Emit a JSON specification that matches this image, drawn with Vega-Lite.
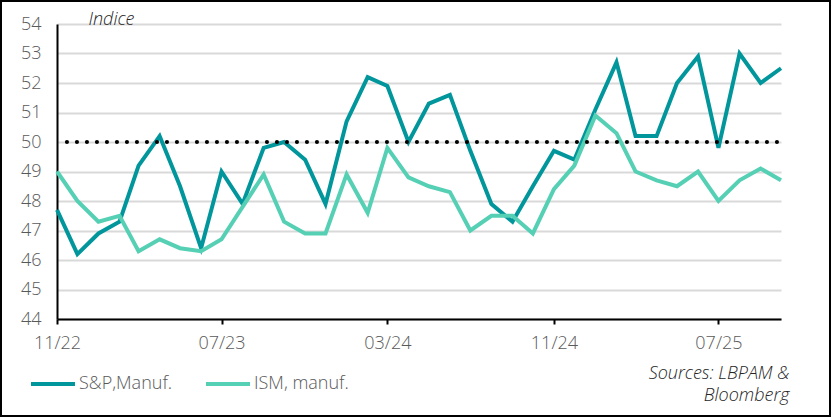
{
  "$schema": "https://vega.github.io/schema/vega-lite/v6.json",
  "autosize": {"type": "none"},
  "width": 829,
  "height": 415,
  "padding": {"left": 1, "top": 1, "right": 1, "bottom": 1},
  "background": "white",
  "config": {
    "view": {"stroke": "black", "strokeWidth": 2},
    "font": "Open Sans"
  },
  "layer": [
    {
      "data": {
        "values": [
          {"date": "2022-11-01", "series": "S&P,Manuf.", "value": 47.7},
          {"date": "2022-12-01", "series": "S&P,Manuf.", "value": 46.2},
          {"date": "2023-01-01", "series": "S&P,Manuf.", "value": 46.9},
          {"date": "2023-02-01", "series": "S&P,Manuf.", "value": 47.3},
          {"date": "2023-03-01", "series": "S&P,Manuf.", "value": 49.2},
          {"date": "2023-04-01", "series": "S&P,Manuf.", "value": 50.2},
          {"date": "2023-05-01", "series": "S&P,Manuf.", "value": 48.5},
          {"date": "2023-06-01", "series": "S&P,Manuf.", "value": 46.4},
          {"date": "2023-07-01", "series": "S&P,Manuf.", "value": 49.0},
          {"date": "2023-08-01", "series": "S&P,Manuf.", "value": 47.9},
          {"date": "2023-09-01", "series": "S&P,Manuf.", "value": 49.8},
          {"date": "2023-10-01", "series": "S&P,Manuf.", "value": 50.0},
          {"date": "2023-11-01", "series": "S&P,Manuf.", "value": 49.4},
          {"date": "2023-12-01", "series": "S&P,Manuf.", "value": 47.9},
          {"date": "2024-01-01", "series": "S&P,Manuf.", "value": 50.7},
          {"date": "2024-02-01", "series": "S&P,Manuf.", "value": 52.2},
          {"date": "2024-03-01", "series": "S&P,Manuf.", "value": 51.9},
          {"date": "2024-04-01", "series": "S&P,Manuf.", "value": 50.0},
          {"date": "2024-05-01", "series": "S&P,Manuf.", "value": 51.3},
          {"date": "2024-06-01", "series": "S&P,Manuf.", "value": 51.6},
          {"date": "2024-07-01", "series": "S&P,Manuf.", "value": 49.7},
          {"date": "2024-08-01", "series": "S&P,Manuf.", "value": 47.9},
          {"date": "2024-09-01", "series": "S&P,Manuf.", "value": 47.3},
          {"date": "2024-10-01", "series": "S&P,Manuf.", "value": 48.5},
          {"date": "2024-11-01", "series": "S&P,Manuf.", "value": 49.7},
          {"date": "2024-12-01", "series": "S&P,Manuf.", "value": 49.4},
          {"date": "2025-01-01", "series": "S&P,Manuf.", "value": 51.1},
          {"date": "2025-02-01", "series": "S&P,Manuf.", "value": 52.7},
          {"date": "2025-03-01", "series": "S&P,Manuf.", "value": 50.2},
          {"date": "2025-04-01", "series": "S&P,Manuf.", "value": 50.2},
          {"date": "2025-05-01", "series": "S&P,Manuf.", "value": 52.0},
          {"date": "2025-06-01", "series": "S&P,Manuf.", "value": 52.9},
          {"date": "2025-07-01", "series": "S&P,Manuf.", "value": 49.8},
          {"date": "2025-08-01", "series": "S&P,Manuf.", "value": 53.0},
          {"date": "2025-09-01", "series": "S&P,Manuf.", "value": 52.0},
          {"date": "2025-10-01", "series": "S&P,Manuf.", "value": 52.5},
          {"date": "2022-11-01", "series": "ISM, manuf.", "value": 49.0},
          {"date": "2022-12-01", "series": "ISM, manuf.", "value": 48.0},
          {"date": "2023-01-01", "series": "ISM, manuf.", "value": 47.3},
          {"date": "2023-02-01", "series": "ISM, manuf.", "value": 47.5},
          {"date": "2023-03-01", "series": "ISM, manuf.", "value": 46.3},
          {"date": "2023-04-01", "series": "ISM, manuf.", "value": 46.7},
          {"date": "2023-05-01", "series": "ISM, manuf.", "value": 46.4},
          {"date": "2023-06-01", "series": "ISM, manuf.", "value": 46.3},
          {"date": "2023-07-01", "series": "ISM, manuf.", "value": 46.7},
          {"date": "2023-08-01", "series": "ISM, manuf.", "value": 47.8},
          {"date": "2023-09-01", "series": "ISM, manuf.", "value": 48.9},
          {"date": "2023-10-01", "series": "ISM, manuf.", "value": 47.3},
          {"date": "2023-11-01", "series": "ISM, manuf.", "value": 46.9},
          {"date": "2023-12-01", "series": "ISM, manuf.", "value": 46.9},
          {"date": "2024-01-01", "series": "ISM, manuf.", "value": 48.9},
          {"date": "2024-02-01", "series": "ISM, manuf.", "value": 47.6},
          {"date": "2024-03-01", "series": "ISM, manuf.", "value": 49.8},
          {"date": "2024-04-01", "series": "ISM, manuf.", "value": 48.8},
          {"date": "2024-05-01", "series": "ISM, manuf.", "value": 48.5},
          {"date": "2024-06-01", "series": "ISM, manuf.", "value": 48.3},
          {"date": "2024-07-01", "series": "ISM, manuf.", "value": 47.0},
          {"date": "2024-08-01", "series": "ISM, manuf.", "value": 47.5},
          {"date": "2024-09-01", "series": "ISM, manuf.", "value": 47.5},
          {"date": "2024-10-01", "series": "ISM, manuf.", "value": 46.9},
          {"date": "2024-11-01", "series": "ISM, manuf.", "value": 48.4},
          {"date": "2024-12-01", "series": "ISM, manuf.", "value": 49.2},
          {"date": "2025-01-01", "series": "ISM, manuf.", "value": 50.9},
          {"date": "2025-02-01", "series": "ISM, manuf.", "value": 50.3},
          {"date": "2025-03-01", "series": "ISM, manuf.", "value": 49.0},
          {"date": "2025-04-01", "series": "ISM, manuf.", "value": 48.7},
          {"date": "2025-05-01", "series": "ISM, manuf.", "value": 48.5},
          {"date": "2025-06-01", "series": "ISM, manuf.", "value": 49.0},
          {"date": "2025-07-01", "series": "ISM, manuf.", "value": 48.0},
          {"date": "2025-08-01", "series": "ISM, manuf.", "value": 48.7},
          {"date": "2025-09-01", "series": "ISM, manuf.", "value": 49.1},
          {"date": "2025-10-01", "series": "ISM, manuf.", "value": 48.7}
        ]
      },
      "mark": {"type": "line", "strokeWidth": 4},
      "encoding": {
        "x": {
          "field": "date",
          "type": "temporal",
          "scale": {
            "type": "utc",
            "domain": [
              {"year": 2022, "month": 11, "date": 1, "utc": true},
              {"year": 2025, "month": 10, "date": 1, "utc": true}
            ],
            "range": [56, 780]
          },
          "axis": {
            "title": ["Sources: LBPAM &", "Bloomberg"],
            "titleX": 788,
            "titleY": 59,
            "titleAlign": "right",
            "titleAnchor": null,
            "titleAngle": 0,
            "titleBaseline": "alphabetic",
            "titleFontStyle": "italic",
            "titleFontWeight": 300,
            "titleFontSize": 18,
            "titleLineHeight": 22,
            "titleColor": "#262626",
            "offset": -97,
            "format": "%m/%y",
            "values": [
              {"year": 2022, "month": 11, "date": 1, "utc": true},
              {"year": 2023, "month": 7, "date": 1, "utc": true},
              {"year": 2024, "month": 3, "date": 1, "utc": true},
              {"year": 2024, "month": 11, "date": 1, "utc": true},
              {"year": 2025, "month": 7, "date": 1, "utc": true}
            ],
            "grid": false,
            "tickSize": 5,
            "tickWidth": 2,
            "tickColor": "black",
            "domainColor": "black",
            "domainWidth": 2,
            "labelFontSize": 18,
            "labelFontWeight": 300,
            "labelColor": "#595959",
            "labelPadding": 10,
            "labelFlush": false,
            "labelOverlap": false
          }
        },
        "y": {
          "field": "value",
          "type": "quantitative",
          "scale": {"domain": [44, 54], "range": [318, 23], "nice": false, "zero": false},
          "axis": {
            "title": "Indice",
            "titleAngle": 0,
            "titleX": 31,
            "titleY": 23,
            "titleAlign": "left",
            "titleAnchor": null,
            "titleBaseline": "alphabetic",
            "titleFontStyle": "italic",
            "titleFontWeight": 300,
            "titleFontSize": 18,
            "titleColor": "#262626",
            "values": [44, 45, 46, 47, 48, 49, 50, 51, 52, 53, 54],
            "offset": -56,
            "ticks": false,
            "labelPadding": 16,
            "labelFontSize": 18,
            "labelFontWeight": 300,
            "labelColor": "#595959",
            "labelFlush": false,
            "domainColor": "black",
            "domainWidth": 2,
            "gridColor": "#d9d9d9",
            "gridWidth": 2
          }
        },
        "color": {
          "field": "series",
          "type": "nominal",
          "sort": ["S&P,Manuf.", "ISM, manuf."],
          "scale": {"domain": ["S&P,Manuf.", "ISM, manuf."], "range": ["#00969B", "#55D0B4"]},
          "legend": {
            "title": null,
            "orient": "none",
            "legendX": 28,
            "legendY": 359,
            "direction": "horizontal",
            "symbolType": "stroke",
            "symbolSize": 1936,
            "symbolStrokeWidth": 4,
            "labelFontSize": 18,
            "labelFontWeight": 300,
            "labelColor": "#595959",
            "labelOffset": 2,
            "columnPadding": 25,
            "padding": 0
          }
        }
      }
    },
    {
      "data": {"values": [{}]},
      "mark": {"type": "rule", "color": "black", "strokeWidth": 4, "strokeCap": "round", "strokeDash": [0.1, 9.9], "strokeDashOffset": 0.1},
      "encoding": {
        "y": {"datum": 50},
        "x": {"datum": {"year": 2022, "month": 11, "date": 1, "utc": true}},
        "x2": {"datum": {"year": 2025, "month": 10, "date": 1, "utc": true}}
      }
    }
  ]
}
